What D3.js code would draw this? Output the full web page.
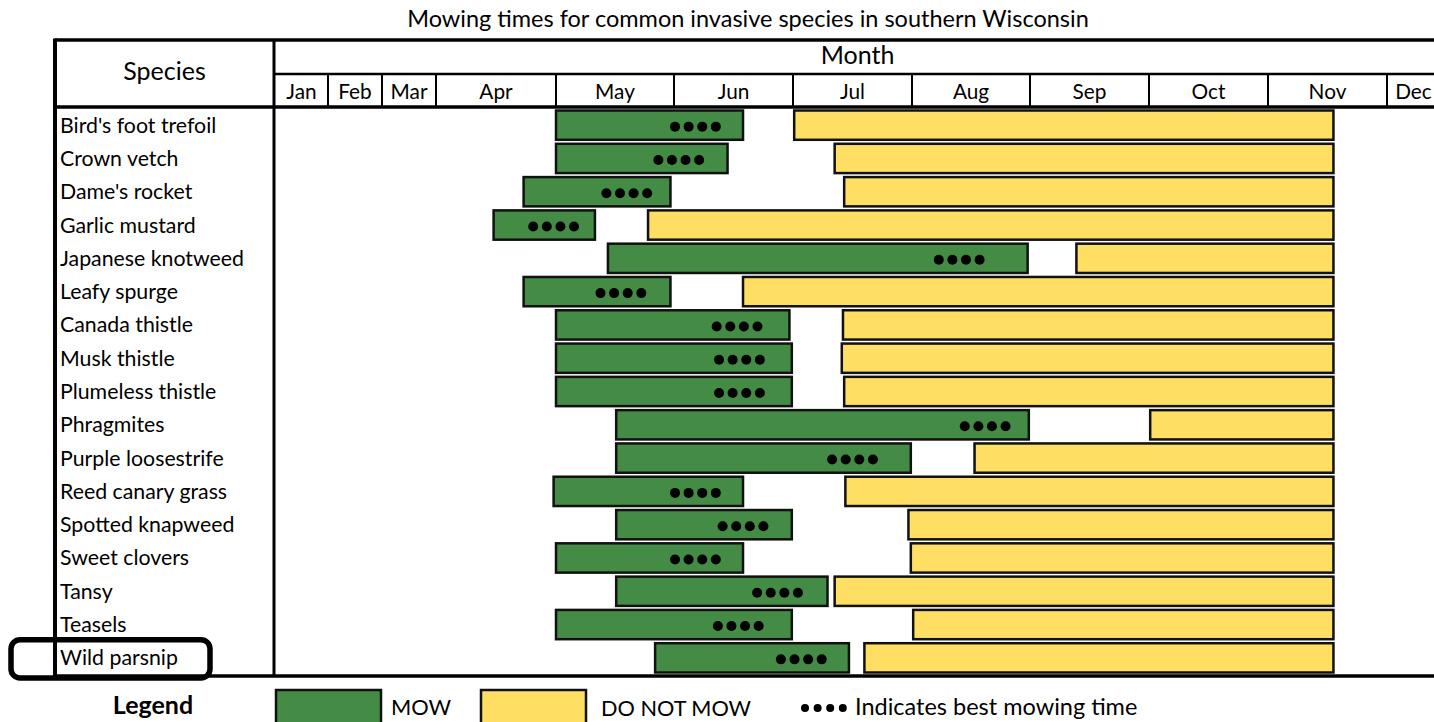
<!DOCTYPE html>
<html>
<head>
<meta charset="utf-8">
<script src="https://cdn.jsdelivr.net/npm/d3@7"></script>
<style>
  body { margin: 0; background: #fff; }
  svg { display: block; font-family: Lato, "Open Sans", sans-serif; }
</style>
</head>
<body>
<svg id="chart" width="1434" height="722"></svg>
<script>
// ---- data (months: 0 = start of Jan, 4 = start of May, ...) ----
var months = ["Jan", "Feb", "Mar", "Apr", "May", "Jun", "Jul", "Aug", "Sep", "Oct", "Nov", "Dec"];
var species = ["Bird's foot trefoil", "Crown vetch", "Dame's rocket", "Garlic mustard",
  "Japanese knotweed", "Leafy spurge", "Canada thistle", "Musk thistle", "Plumeless thistle",
  "Phragmites", "Purple loosestrife", "Reed canary grass", "Spotted knapweed", "Sweet clovers",
  "Tansy", "Teasels", "Wild parsnip"];
var mowStart  = [4.00, 4.00, 3.73, 3.48, 4.44, 3.73, 4.00, 4.00, 4.00, 4.51, 4.51, 3.98, 4.51, 4.00, 4.51, 4.00, 4.84];
var mowEnd    = [5.58, 5.45, 4.97, 4.33, 7.98, 4.97, 5.97, 5.99, 5.99, 7.99, 6.99, 5.58, 5.99, 5.58, 6.29, 5.99, 6.47];
var noStart   = [6.01, 6.35, 6.43, 4.78, 8.39, 5.58, 6.42, 6.41, 6.43, 9.01, 7.53, 6.44, 6.97, 6.99, 6.35, 7.01, 6.60];
var noEnd     = [10.55, 10.55, 10.55, 10.55, 10.55, 10.55, 10.55, 10.55, 10.55, 10.55, 10.55, 10.55, 10.55, 10.55, 10.55, 10.55, 10.55];
var bestTime  = [5.18, 5.04, 4.60, 3.98, 7.40, 4.55, 5.53, 5.55, 5.55, 7.62, 6.50, 5.18, 5.58, 5.18, 5.87, 5.54, 6.07];
var highlighted = "Wild parsnip";

// ---- layout ----
var monthEdges = [275, 328, 382, 436, 556, 674, 793, 912, 1030, 1149, 1268, 1387, 1440];
var tableLeft = 55, speciesRight = 274, tableTop = 40, monthRowY = 74, headBottom = 107, tableBottom = 676;
var green = "#448b46", yellow = "#ffdf63";

var svg = d3.select("#chart");

var x = d3.scaleLinear()
  .domain(d3.range(monthEdges.length))
  .range(monthEdges);

var y = d3.scaleBand()
  .domain(species)
  .range([headBottom + 2, tableBottom - 1])
  .padding(0);

var rows = species.map(function (s, i) {
  return { name: s, mowStart: mowStart[i], mowEnd: mowEnd[i], noStart: noStart[i], noEnd: noEnd[i], best: bestTime[i] };
});

// title
svg.append("text")
  .attr("x", 748).attr("y", 27)
  .attr("text-anchor", "middle")
  .attr("font-size", 23.5)
  .text("Mowing times for common invasive species in southern Wisconsin");

// header texts
svg.append("text")
  .attr("x", (tableLeft + speciesRight) / 2).attr("y", 80)
  .attr("text-anchor", "middle")
  .attr("font-size", 25)
  .text("Species");

svg.append("text")
  .attr("x", (monthEdges[0] + monthEdges[12]) / 2).attr("y", 64)
  .attr("text-anchor", "middle")
  .attr("font-size", 25)
  .text("Month");

svg.append("g")
  .selectAll("text")
  .data(months)
  .enter()
  .append("text")
  .attr("x", function (d, i) { return (x(i) + x(i + 1)) / 2; })
  .attr("y", 99)
  .attr("text-anchor", "middle")
  .attr("font-size", 20.8)
  .text(function (d) { return d; });

// month separators in header
svg.append("g")
  .selectAll("line")
  .data(d3.range(1, 12))
  .enter()
  .append("line")
  .attr("x1", function (d) { return x(d); })
  .attr("x2", function (d) { return x(d); })
  .attr("y1", monthRowY).attr("y2", headBottom)
  .attr("stroke", "#000").attr("stroke-width", 2);

// species names
svg.append("g")
  .selectAll("text")
  .data(species)
  .enter()
  .append("text")
  .attr("x", 60)
  .attr("y", function (d) { return y(d) + y.bandwidth() / 2 + 7; })
  .attr("font-size", 21.3)
  .text(function (d) { return d; });

// bars
var barPad = 1.5;
var bars = svg.append("g");
bars.selectAll("rect.mow")
  .data(rows)
  .enter()
  .append("rect")
  .attr("class", "mow")
  .attr("x", function (d) { return x(d.mowStart); })
  .attr("width", function (d) { return x(d.mowEnd) - x(d.mowStart); })
  .attr("y", function (d) { return y(d.name) + barPad; })
  .attr("height", y.bandwidth() - 2 * barPad - 1)
  .attr("fill", green)
  .attr("stroke", "#111")
  .attr("stroke-width", 2.5);

bars.selectAll("rect.nomow")
  .data(rows)
  .enter()
  .append("rect")
  .attr("class", "nomow")
  .attr("x", function (d) { return x(d.noStart); })
  .attr("width", function (d) { return x(d.noEnd) - x(d.noStart); })
  .attr("y", function (d) { return y(d.name) + barPad; })
  .attr("height", y.bandwidth() - 2 * barPad - 1)
  .attr("fill", yellow)
  .attr("stroke", "#111")
  .attr("stroke-width", 2.5);

// best mowing time dots
var dotGap = 13.6;
bars.selectAll("g.dots")
  .data(rows)
  .enter()
  .append("g")
  .attr("class", "dots")
  .selectAll("circle")
  .data(function (d) { return [-1.5, -0.5, 0.5, 1.5].map(function (k) { return { d: d, k: k }; }); })
  .enter()
  .append("circle")
  .attr("cx", function (p) { return x(p.d.best) + p.k * dotGap; })
  .attr("cy", function (p) { return y(p.d.name) + y.bandwidth() / 2 + 1; })
  .attr("r", 5)
  .attr("fill", "#000");

// table lines
var lines = [
  [tableLeft, tableTop, 1434, tableTop, 3.5],
  [speciesRight, monthRowY, 1434, monthRowY, 2.5],
  [tableLeft, headBottom, 1434, headBottom, 3.5],
  [tableLeft, tableBottom, 1434, tableBottom, 3.5],
  [tableLeft, tableTop - 1.5, tableLeft, tableBottom + 1.5, 4],
  [speciesRight, tableTop, speciesRight, tableBottom, 3]
];
svg.append("g")
  .selectAll("line")
  .data(lines)
  .enter()
  .append("line")
  .attr("x1", function (d) { return d[0]; })
  .attr("y1", function (d) { return d[1]; })
  .attr("x2", function (d) { return d[2]; })
  .attr("y2", function (d) { return d[3]; })
  .attr("stroke", "#000")
  .attr("stroke-width", function (d) { return d[4]; });

// highlight box around one species
svg.append("rect")
  .attr("x", 11)
  .attr("y", y(highlighted) - 2)
  .attr("width", 199)
  .attr("height", y.bandwidth() + 5)
  .attr("rx", 9)
  .attr("fill", "none")
  .attr("stroke", "#000")
  .attr("stroke-width", 5.5);

// legend
var legend = svg.append("g");
legend.append("text")
  .attr("x", 153).attr("y", 714)
  .attr("text-anchor", "middle")
  .attr("font-size", 25)
  .attr("font-weight", "bold")
  .text("Legend");
legend.append("rect")
  .attr("x", 276).attr("y", 690).attr("width", 105).attr("height", 40)
  .attr("fill", green).attr("stroke", "#111").attr("stroke-width", 2.5);
legend.append("text")
  .attr("x", 391).attr("y", 715)
  .attr("font-size", 21.8)
  .text("MOW");
legend.append("rect")
  .attr("x", 481).attr("y", 690).attr("width", 105).attr("height", 40)
  .attr("fill", yellow).attr("stroke", "#111").attr("stroke-width", 2.5);
legend.append("text")
  .attr("x", 601).attr("y", 716)
  .attr("font-size", 21.7)
  .text("DO NOT MOW");
legend.selectAll("circle")
  .data([0, 1, 2, 3])
  .enter()
  .append("circle")
  .attr("cx", function (d) { return 805 + d * 12.6; })
  .attr("cy", 708)
  .attr("r", 4)
  .attr("fill", "#000");
legend.append("text")
  .attr("x", 855).attr("y", 715)
  .attr("font-size", 23.5)
  .text("Indicates best mowing time");
</script>
</body>
</html>
